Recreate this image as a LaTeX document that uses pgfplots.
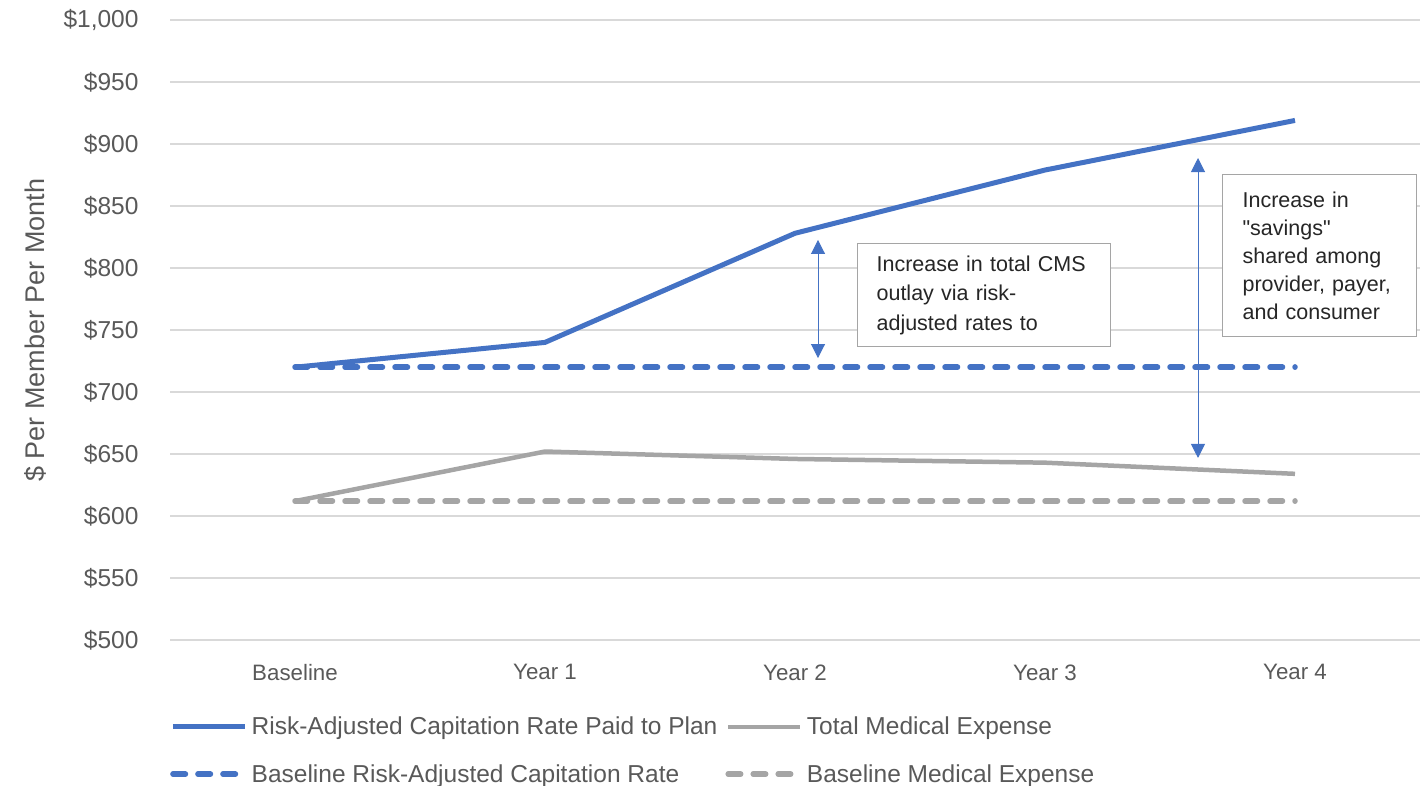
\documentclass[border=0pt]{standalone}
\usepackage{fontspec}
\setmainfont{Liberation Sans}
% plain family without TeX ligatures, so straight quotes stay straight
\newfontfamily\boxfont{Liberation Sans}[Ligatures=ResetAll]
\usepackage{pgfplots}
\pgfplotsset{compat=1.18}
\usetikzlibrary{arrows.meta}
\definecolor{capblue}{HTML}{4472C4}
\definecolor{medgray}{HTML}{A5A5A5}
\definecolor{txtgray}{HTML}{595959}
\definecolor{gridgray}{HTML}{D9D9D9}

% Per-member-per-month values
\pgfplotstableread{
x rate  base  med  medbase
0 720   720   612  612
1 740   720   652  612
2 828   720   646  612
3 879   720   643  612
4 919   720   634  612
}\pmpm

\begin{document}
\begin{tikzpicture}
\useasboundingbox (0,0) rectangle (1425pt,785pt);
\begin{axis}[
  at={(170pt,145pt)}, anchor=south west,
  scale only axis, width=1250pt, height=620pt,
  xmin=-0.5, xmax=4.5, ymin=500, ymax=1000,
  xtick={0,1,2,3,4},
  xticklabels={Baseline,Year 1,Year 2,Year 3,Year 4},
  ytick={500,550,...,1000},
  yticklabel={\$\pgfmathprintnumber{\tick}},
  /pgf/number format/1000 sep={,},
  /pgf/number format/assume math mode=true,
  axis line style={draw=none},
  major tick length=0pt,
  ymajorgrids,
  grid style={draw=gridgray, line width=1.3pt},
  yticklabel style={xshift=-28pt, font=\fontsize{24.5}{27}\selectfont, text=txtgray},
  xticklabel style={yshift=-21pt, font=\fontsize{22.3}{25}\selectfont, text=txtgray},
  ylabel={\$ Per Member Per Month},
  ylabel style={at={(axis description cs:-0.108,0.5)}, anchor=center,
    font=\fontsize{27}{30}\selectfont, text=txtgray},
  legend columns=2,
  legend cell align=left,
  legend style={at={(axis description cs:0.0,-0.121)}, anchor=north west,
    draw=none, fill=none, font=\fontsize{24.5}{27}\selectfont, text=txtgray,
    row sep=24pt, inner sep=0pt,
    nodes={inner xsep=4pt, inner ysep=2pt},
    /tikz/every even column/.style={column sep=4pt}},
  legend image code/.code={\draw[#1] (0pt,0pt) -- (72pt,0pt);},
]
\addplot[capblue, line width=5pt, line join=round] table[x=x, y=rate] {\pmpm};
\addlegendentry{Risk-Adjusted Capitation Rate Paid to Plan}
\addplot[medgray, line width=4.5pt, line join=round] table[x=x, y=med] {\pmpm};
\addlegendentry{Total Medical Expense}
\addplot[capblue, line width=5.5pt, line cap=round, dash pattern=on 12.5pt off 12.5pt] table[x=x, y=base] {\pmpm};
\addlegendentry{Baseline Risk-Adjusted Capitation Rate}
\addplot[medgray, line width=5.5pt, line cap=round, dash pattern=on 12.5pt off 12.5pt] table[x=x, y=medbase] {\pmpm};
\addlegendentry{Baseline Medical Expense}

% gap annotations
\draw[capblue, line width=1pt, {Triangle[width=14pt,length=14pt]}-{Triangle[width=14pt,length=14pt]}]
  (axis cs:2.092,822.6) -- (axis cs:2.092,727.4);
\draw[capblue, line width=1pt, {Triangle[width=14pt,length=14pt]}-{Triangle[width=14pt,length=14pt]}]
  (axis cs:3.612,888.7) -- (axis cs:3.612,646.8);

\node[draw=medgray, line width=1.2pt, fill=white, anchor=north west,
  text width=215pt, inner xsep=19pt, inner ysep=0pt, minimum height=103pt,
  align=left, font=\boxfont\fontsize{21.5}{29.5}\selectfont, text=black!85]
  at (axis cs:2.248,820.2)
  {Increase in total CMS\\ outlay via risk-\\ adjusted rates to};
\node[draw=medgray, line width=1.2pt, fill=white, anchor=north west,
  text width=154pt, inner xsep=20pt, inner ysep=0pt, minimum height=162pt,
  align=left, font=\boxfont\fontsize{21.5}{28}\selectfont, text=black!85]
  at (axis cs:3.708,875.8)
  {Increase in\\ "savings"\\ shared among\\ provider, payer,\\ and consumer};
\end{axis}
\end{tikzpicture}
\end{document}
